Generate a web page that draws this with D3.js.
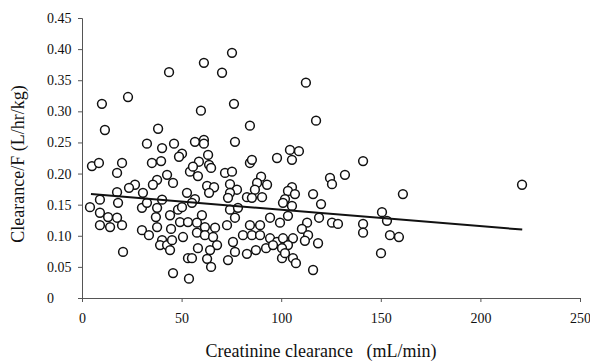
<!DOCTYPE html>
<html lang="en">
<head>
    <meta charset="UTF-8">
    <title>Clearance vs creatinine clearance</title>
</head>

<style>

body {
    margin: 0;
    background: #fff;
}

text {
    font-family: 'Liberation Serif', 'Times New Roman', serif;
    fill: #111;
}

.axis path, .axis line {
    stroke: #555;
}

.point {
    fill: #fff;
    stroke: #111;
    stroke-width: 1.5;
}

.trend {
    stroke: #111;
    stroke-width: 2;
}

</style>

<body>
<svg height="362" width="590"></svg>

<script src="https://d3js.org/d3.v7.min.js"></script>

<script>

    // creatinine clearance (mL/min)
    var creatClearance = [
        43.7, 10.0, 11.5, 23.1, 32.6, 38.2, 40.2, 46.2, 50.2, 48.7,
        56.7, 61.2, 61.2, 76.8, 59.7, 61.2, 75.3, 70.3, 112.4, 76.3,
        117.5, 84.3, 63.3, 104.4, 108.9, 97.9, 5.0, 8.5, 20.1, 17.6,
        35.1, 39.7, 42.7, 45.7, 37.7, 35.6, 26.6, 23.6, 17.6, 30.6,
        58.7, 63.8, 64.8, 84.3, 85.3, 105.4, 141.1, 54.2, 55.7, 58.2,
        71.8, 75.3, 89.9, 74.3, 87.9, 92.9, 62.8, 66.3, 86.8, 77.8,
        74.3, 52.7, 63.8, 82.8, 90.4, 85.3, 56.7, 73.3, 132.0, 124.5,
        125.5, 105.4, 103.4, 106.9, 101.9, 116.0, 220.9, 161.1, 4.0, 9.0,
        9.0, 9.0, 13.1, 14.1, 17.6, 20.1, 18.1, 20.6, 30.1, 32.6,
        37.7, 44.2, 37.1, 37.7, 30.1, 33.6, 44.7, 49.2, 48.2, 40.2,
        39.2, 42.7, 45.2, 44.2, 45.7, 50.2, 55.2, 60.2, 53.2, 57.7,
        61.7, 66.8, 72.8, 76.8, 74.3, 78.3, 84.3, 89.4, 94.4, 99.4,
        80.8, 85.3, 89.4, 94.4, 97.9, 50.7, 57.7, 61.7, 65.8, 67.8,
        75.8, 58.2, 64.3, 76.8, 82.8, 87.3, 92.4, 95.9, 100.4, 53.2,
        55.2, 62.8, 73.3, 64.8, 53.7, 100.9, 105.4, 120.0, 103.4, 119.0,
        113.0, 125.5, 128.5, 141.1, 141.1, 110.4, 113.5, 105.9, 100.9, 111.9,
        103.4, 118.5, 100.4, 101.9, 105.9, 107.4, 116.0, 150.6, 153.1, 154.6,
        159.1, 150.1, 40.2
    ];

    // clearance/F (L/hr/kg)
    var clearanceF = [
        0.363, 0.312, 0.270, 0.323, 0.248, 0.272, 0.241, 0.248, 0.232, 0.227,
        0.251, 0.254, 0.248, 0.251, 0.301, 0.378, 0.394, 0.362, 0.346, 0.312,
        0.285, 0.277, 0.230, 0.238, 0.236, 0.225, 0.212, 0.217, 0.217, 0.201,
        0.217, 0.220, 0.198, 0.185, 0.190, 0.182, 0.182, 0.177, 0.170, 0.169,
        0.219, 0.214, 0.209, 0.217, 0.222, 0.222, 0.220, 0.203, 0.211, 0.196,
        0.201, 0.203, 0.195, 0.183, 0.185, 0.182, 0.180, 0.178, 0.174, 0.174,
        0.169, 0.169, 0.169, 0.162, 0.162, 0.161, 0.159, 0.161, 0.198, 0.193,
        0.183, 0.178, 0.172, 0.167, 0.159, 0.167, 0.182, 0.167, 0.146, 0.158,
        0.137, 0.117, 0.130, 0.114, 0.129, 0.117, 0.153, 0.074, 0.145, 0.153,
        0.145, 0.133, 0.130, 0.114, 0.109, 0.101, 0.111, 0.122, 0.142, 0.093,
        0.085, 0.085, 0.093, 0.077, 0.040, 0.146, 0.153, 0.133, 0.122, 0.121,
        0.114, 0.113, 0.117, 0.129, 0.142, 0.145, 0.117, 0.117, 0.129, 0.121,
        0.101, 0.101, 0.101, 0.096, 0.090, 0.098, 0.105, 0.101, 0.098, 0.085,
        0.090, 0.080, 0.077, 0.074, 0.071, 0.077, 0.080, 0.085, 0.064, 0.064,
        0.064, 0.063, 0.061, 0.050, 0.031, 0.153, 0.148, 0.151, 0.132, 0.129,
        0.121, 0.121, 0.119, 0.119, 0.105, 0.111, 0.101, 0.096, 0.096, 0.092,
        0.085, 0.088, 0.080, 0.072, 0.064, 0.056, 0.045, 0.138, 0.124, 0.101,
        0.098, 0.072, 0.158
    ];

    // regression line end points
    var trendX = [4.5, 221];
    var trendY = [0.167, 0.110];

    var xTicks = [0, 50, 100, 150, 200, 250];
    var yTicks = [0, 0.05, 0.10, 0.15, 0.20, 0.25, 0.30, 0.35, 0.40, 0.45];
    var yTickLabels = ["0", "0.05", "0.10", "0.15", "0.20", "0.25", "0.30", "0.35", "0.40", "0.45"];

    var translate = function(left, top) {
        return "translate(" + left + "," + top + ")";
    };

    var svg = d3.select("svg"),
        margins = {top: 18, right: 10, bottom: 64, left: 82};

    var plotWidth = 580 - margins.left;
    var plotHeight = +svg.attr("height") - margins.top - margins.bottom;

    var plot = svg.append("g")
        .attr("transform", translate(margins.left, margins.top));

    var xScale = d3.scaleLinear().domain([0, 250]).range([0, plotWidth]);
    var yScale = d3.scaleLinear().domain([0, 0.45]).range([plotHeight, 0]);

    var xAxis = d3.axisBottom(xScale)
        .tickValues(xTicks)
        .tickFormat(d3.format("d"))
        .tickSizeOuter(0)
        .tickSize(4)
        .tickPadding(11);

    var yAxis = d3.axisLeft(yScale)
        .tickValues(yTicks)
        .tickFormat(function(d, i) { return yTickLabels[i]; })
        .tickSizeOuter(0)
        .tickSize(4);

    plot.append("g")
        .attr("class", "x axis")
        .attr("transform", translate(0, plotHeight))
        .call(xAxis)
        .selectAll("text")
        .attr("font-size", 14)
        .attr("font-family", null);

    plot.append("g")
        .attr("class", "y axis")
        .call(yAxis)
        .selectAll("text")
        .attr("font-size", 14)
        .attr("font-family", null)
        .attr("text-anchor", "start")
        .attr("x", 47 - margins.left);

    var points = creatClearance.map(function(x, i) { return {x: x, y: clearanceF[i]}; });

    plot.selectAll(".point")
        .data(points)
        .enter()
        .append("circle")
        .attr("class", "point")
        .attr("r", 4.4)
        .attr("cx", function(d) { return xScale(d.x); })
        .attr("cy", function(d) { return yScale(d.y); });

    plot.append("line")
        .attr("class", "trend")
        .attr("x1", xScale(trendX[0]))
        .attr("y1", yScale(trendY[0]))
        .attr("x2", xScale(trendX[1]))
        .attr("y2", yScale(trendY[1]));

    svg.append("text")
        .attr("transform", translate(24, 164) + " rotate(-90)")
        .attr("text-anchor", "middle")
        .attr("font-size", 18)
        .text("Clearance/F (L/hr/kg)");

    svg.append("text")
        .attr("x", 321)
        .attr("y", 357)
        .attr("text-anchor", "middle")
        .attr("font-size", 18)
        .style("white-space", "pre")
        .text("Creatinine clearance   (mL/min)");

</script>
</body>
</html>
